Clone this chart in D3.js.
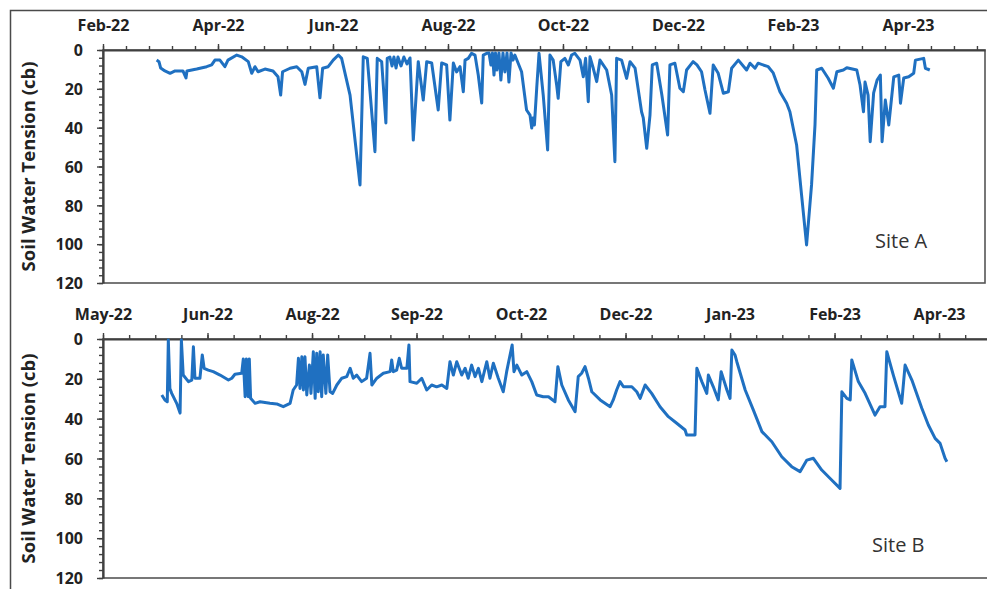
<!DOCTYPE html>
<html>
<head>
<meta charset="utf-8">
<script src="https://cdn.jsdelivr.net/npm/d3@7"></script>
<style>
  body { margin: 0; background: #fff; }
  svg { display: block; font-family: "Open Sans", sans-serif; }
</style>
</head>
<body>
<svg id="chart" width="987" height="589"></svg>
<script>
// [days since axis start, soil water tension (cb)]
const siteA = [
  [28.0,5.2],[29.2,6.0],[30.1,9.3],[32.3,10.8],[35.0,12.0],[37.6,10.8],[41.7,10.8],[43.3,14.4],[43.8,10.8],[48.9,9.8],
  [54.1,8.6],[56.7,7.7],[58.4,5.2],[61.0,5.2],[63.6,8.6],[65.2,5.2],[69.8,2.6],[72.4,3.5],[75.8,6.0],[77.6,12.0],
  [79.3,8.6],[80.9,11.2],[84.5,9.8],[88.7,10.8],[91.3,13.8],[92.7,23.2],[93.7,11.2],[97.6,9.4],[101.1,8.6],[103.7,11.2],
  [105.4,17.7],[107.1,9.4],[111.5,8.6],[113.2,24.6],[114.6,9.4],[117.5,8.6],[120.1,5.2],[122.8,2.6],[124.5,4.3],[128.9,23.2],
  [134.1,69.5],[135.8,3.5],[137.9,4.3],[141.9,52.4],[143.1,4.3],[145.4,6.0],[147.6,37.6],[148.3,4.3],
  [149.7,3.6],[150.8,8.2],[151.8,3.6],[152.9,9.3],[153.9,3.6],[155.5,8.2],[157.0,3.6],[158.6,7.2],[160.2,4.1],
  [161.9,46.4],[164.5,6.0],[167.1,25.8],[168.9,6.0],[171.5,6.7],[174.9,30.9],[176.7,6.7],[179.3,7.7],[181.0,36.1],[182.8,6.7],
  [184.5,11.3],[186.3,8.6],[188.0,21.5],[188.9,5.2],[190.6,4.3],[192.3,1.7],[194.1,2.6],[195.8,12.9],[197.6,27.3],[198.4,2.6],
  [200.2,1.7],[201.4,1.5],[202.4,7.7],[203.2,1.5],[204.0,12.9],[204.8,1.5],[205.5,10.3],[206.6,1.5],[207.6,15.5],[208.7,1.5],
  [209.7,11.3],[210.8,1.5],[211.8,16.5],[212.9,1.5],[213.9,5.2],[214.9,2.6],[218.4,11.2],[221.0,30.9],[222.8,33.5],[223.7,40.2],
  [224.3,35.0],[225.1,38.6],[226.3,19.6],[227.5,1.7],[229.7,23.2],[232.0,51.5],[233.2,2.6],[234.9,5.2],[236.7,18.0],[237.5,24.9],
  [238.9,6.0],[241.0,4.3],[242.8,7.7],[244.5,2.6],[246.2,1.7],[248.9,5.2],[250.6,13.8],[251.8,4.3],[253.2,26.6],[254.1,3.5],
  [255.8,9.4],[257.6,16.3],[259.3,5.2],[262.8,10.3],[265.4,23.2],[267.1,57.5],[268.0,4.3],[270.6,5.2],[273.2,14.6],[275.0,6.0],
  [277.6,9.3],[281.0,31.8],[281.9,35.0],[283.7,50.6],[285.4,33.5],[286.6,7.7],[288.9,6.8],[291.6,23.2],[294.6,43.8],[295.8,7.7],
  [298.4,6.8],[301.0,19.7],[302.8,21.5],[304.5,10.3],[307.9,6.0],[309.9,7.7],[312.3,11.2],[314.1,20.6],[316.7,32.6],[318.4,7.7],
  [321.0,12.0],[323.7,22.3],[326.3,21.5],[328.0,9.4],[331.5,5.2],[335.8,10.3],[337.6,6.8],[340.2,9.4],[341.8,6.8],[347.1,8.6],
  [349.7,11.8],[353.2,21.5],[356.7,27.4],[358.4,31.8],[361.9,48.9],[364.5,74.7],[367.1,100.4],[369.7,69.5],[371.5,38.6],[372.4,10.3],
  [375.0,9.4],[378.3,14.4],[381.1,19.7],[382.9,11.2],[386.3,10.3],[388.1,9.1],[393.3,10.3],[395.0,18.0],[396.8,31.8],[397.6,16.5],
  [399.2,23.2],[400.3,47.2],[402.1,22.1],[403.9,15.5],[405.6,12.9],[406.5,47.2],[408.2,25.8],[410.0,38.6],[410.8,30.9],[412.6,13.8],
  [415.2,12.9],[416.1,27.4],[417.8,14.4],[420.4,13.8],[423.0,12.0],[423.9,5.2],[428.2,4.3],[429.1,9.4],[431.4,10.3]
];

const siteB = [
  [22.5,28.1],[23.7,30.6],[24.6,31.5],[25.0,0.5],[25.6,24.8],[26.3,27.3],[28.2,32.3],[29.5,37.2],[30.0,0.5],[30.7,18.1],
  [32.7,21.4],[34.0,20.6],[34.6,3.9],[35.2,19.7],[37.1,19.7],[38.0,8.0],[38.7,14.7],[40.3,15.6],[42.2,16.4],[44.8,18.1],
  [48.0,20.6],[49.3,19.7],[50.5,17.7],[53.1,17.2],[53.7,10.0],[54.4,29.0],[54.9,10.0],[55.6,29.0],[56.0,10.0],[56.5,29.8],
  [58.2,32.3],[60.1,31.5],[63.9,32.3],[66.5,32.6],[69.0,34.0],[71.6,32.3],[72.8,25.6],[74.1,23.1],[74.8,9.7],[75.4,24.8],
  [76.1,8.9],[76.7,25.6],[77.3,8.9],[78.0,28.1],[79.0,13.1],[79.6,27.3],[80.5,6.4],[81.2,29.8],[81.8,7.2],[82.4,26.5],
  [83.1,6.4],[83.7,29.0],[84.3,8.0],[85.3,27.3],[86.0,8.0],[86.9,26.5],[87.9,27.3],[89.5,23.1],[91.4,19.7],[93.3,18.9],
  [94.6,14.7],[95.8,19.7],[97.1,18.1],[99.0,21.4],[100.9,19.7],[102.2,7.2],[102.9,23.1],[104.8,19.7],[107.3,17.2],[109.9,16.4],
  [110.5,10.5],[111.1,16.4],[112.4,15.6],[113.4,9.7],[114.3,14.7],[116.3,14.7],[117.1,3.0],[117.5,21.4],[120.1,22.2],[122.0,19.7],
  [123.9,25.6],[125.8,23.1],[127.7,24.0],[129.7,23.1],[131.6,24.8],[132.8,11.4],[134.1,18.1],[135.4,11.4],[137.3,18.1],[138.6,14.7],
  [139.8,19.7],[141.1,13.1],[142.4,18.9],[143.7,14.7],[145.0,21.4],[146.9,11.4],[148.1,19.7],[149.4,12.2],[151.3,19.7],[153.2,26.5],
  [154.5,16.4],[155.8,8.0],[156.6,3.0],[157.3,16.4],[158.4,13.1],[160.3,18.1],[162.2,16.4],[164.1,21.4],[166.0,28.1],[168.5,29.0],
  [170.5,29.0],[173.0,31.5],[174.1,13.9],[175.6,23.1],[178.1,30.6],[180.7,36.5],[181.9,18.9],[183.2,17.2],[184.5,13.9],[185.8,19.7],
  [187.1,26.5],[190.3,30.6],[194.1,34.0],[195.3,30.6],[196.6,25.6],[197.9,21.4],[199.2,24.0],[202.4,24.0],[204.3,26.5],[205.6,29.8],
  [207.5,23.1],[210.0,27.3],[213.2,34.0],[216.4,39.0],[219.6,42.3],[222.8,45.7],[223.4,48.2],[226.6,48.2],[227.3,14.7],[229.2,21.4],
  [231.1,27.3],[231.7,18.1],[233.6,24.0],[235.5,30.6],[236.6,16.4],[238.8,25.6],[240.0,29.8],[240.7,5.5],[241.9,8.0],[242.6,11.4],
  [245.8,25.6],[248.9,35.6],[252.2,46.5],[256.0,51.6],[259.8,59.1],[263.6,64.1],[266.8,66.6],[269.4,60.8],[271.9,59.9],[275.1,65.8],
  [278.9,70.8],[282.1,75.0],[282.8,26.5],[284.7,29.8],[286.0,30.6],[286.6,10.5],[289.1,21.4],[291.7,27.3],[295.5,38.2],[297.4,34.0],
  [299.3,34.0],[300.0,6.4],[302.5,18.1],[305.7,32.3],[307.0,13.1],[309.6,20.6],[313.4,34.8],[315.9,43.2],[318.5,49.9],[320.4,52.4],
  [322.3,59.9],[323.0,61.6]
];

const ticksA = ["Feb-22", "Apr-22", "Jun-22", "Aug-22", "Oct-22", "Dec-22", "Feb-23", "Apr-23"];
const ticksB = ["May-22", "Jun-22", "Aug-22", "Sep-22", "Oct-22", "Dec-22", "Jan-23", "Feb-23", "Apr-23"];
const yTicks = [0, 20, 40, 60, 80, 100, 120];

const svg = d3.select("#chart");
const DAY = 864e5;
const toDate = (start, d) => new Date(start.getTime() + d * DAY);

const panels = [
  { data: siteA, labels: ticksA, start: new Date(2022, 1, 10), span: 460.2, major: 60, minor: 12,
    top: 50, bottom: 283, right: 985, name: "Site A", nameX: 875, nameY: 248 },
  { data: siteB, labels: ticksB, start: new Date(2022, 4, 23), span: 339.5, major: 40, minor: 10,
    top: 339, bottom: 578, right: 990, name: "Site B", nameX: 872, nameY: 552 }
];
const left = 103;

// figure frame (top and left edges only, as cropped)
svg.append("path")
  .attr("d", "M10.5,589 V10.5 H987")
  .attr("fill", "none")
  .attr("stroke", "#4a4a4a")
  .attr("stroke-width", 1.5);

panels.forEach(p => {
  const x = d3.scaleTime()
    .domain([p.start, toDate(p.start, p.span)])
    .range([left, p.right]);
  const y = d3.scaleLinear().domain([0, 120]).range([p.top, p.bottom]);

  const g = svg.append("g");

  g.append("rect")
    .attr("x", left).attr("y", p.top)
    .attr("width", p.right - left).attr("height", p.bottom - p.top)
    .attr("fill", "none")
    .attr("stroke", "#555")
    .attr("stroke-width", 1.6);

  // minor ticks
  g.append("g")
    .attr("transform", `translate(0,${p.top})`)
    .call(d3.axisTop(x)
      .tickValues(d3.range(0, p.span, p.minor).map(d => toDate(p.start, d)))
      .tickSize(4).tickSizeOuter(0).tickFormat(""))
    .call(a => a.select(".domain").remove());
  g.append("g")
    .attr("transform", `translate(${left},0)`)
    .call(d3.axisLeft(y)
      .tickValues(d3.range(0, 121, 4))
      .tickSize(4).tickSizeOuter(0).tickFormat(""))
    .call(a => a.select(".domain").remove());

  // major axes
  const xAxis = g.append("g")
    .attr("transform", `translate(0,${p.top})`)
    .call(d3.axisTop(x)
      .tickValues(p.labels.map((_, i) => toDate(p.start, i * p.major)))
      .tickSize(6).tickSizeOuter(0).tickPadding(13)
      .tickFormat((d, i) => p.labels[i]));
  const yAxis = g.append("g")
    .attr("transform", `translate(${left},0)`)
    .call(d3.axisLeft(y)
      .tickValues(yTicks)
      .tickSize(6).tickSizeOuter(0).tickPadding(14));

  g.selectAll(".tick line").attr("stroke", "#404040").attr("stroke-width", 1.4);
  [xAxis, yAxis].forEach(a => {
    a.select(".domain").attr("stroke", "#404040").attr("stroke-width", 2.2);
    a.selectAll("text")
      .attr("fill", "#222")
      .style("font-size", "16px")
      .style("font-weight", "bold")
      .style("font-family", "'Open Sans', sans-serif");
  });
  yAxis.selectAll("text").attr("dy", "0.36em");

  g.append("text")
    .attr("transform", `translate(35,${(p.top + p.bottom) / 2}) rotate(-90)`)
    .attr("text-anchor", "middle")
    .attr("fill", "#222")
    .style("font-size", "18.5px")
    .style("font-weight", "bold")
    .text("Soil Water Tension (cb)");

  const line = d3.line()
    .x(d => x(toDate(p.start, d[0])))
    .y(d => y(d[1]));

  g.append("path")
    .datum(p.data)
    .attr("d", line)
    .attr("fill", "none")
    .attr("stroke", "#1f70c1")
    .attr("stroke-width", 3)
    .attr("stroke-linejoin", "round");

  g.append("text")
    .attr("x", p.nameX).attr("y", p.nameY)
    .attr("fill", "#333")
    .style("font-size", "20px")
    .text(p.name);
});
</script>
</body>
</html>
